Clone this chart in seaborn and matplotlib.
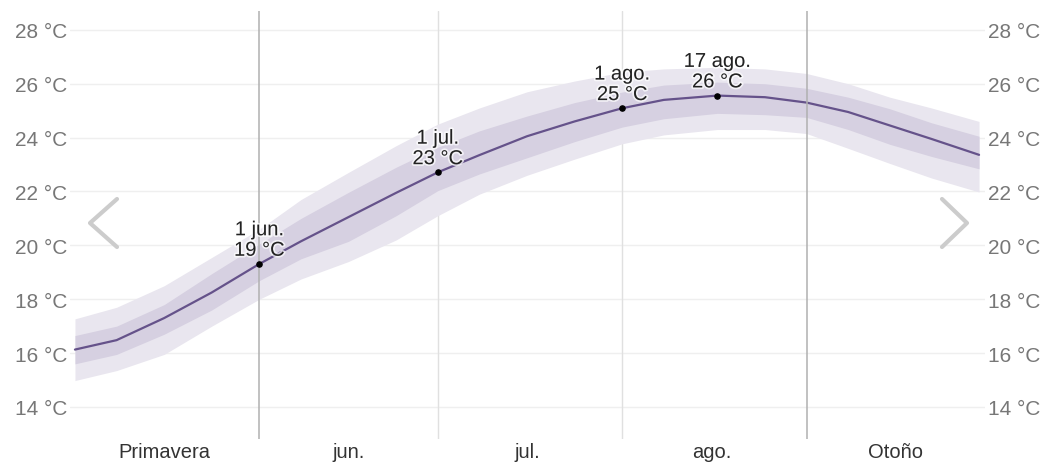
import pandas as pd
import numpy as np
import matplotlib
matplotlib.use('Agg')
import matplotlib.pyplot as plt
import matplotlib.patheffects as pe
from matplotlib.lines import Line2D
import seaborn as sns

# Datos (temperatura media diaria, °C)
fechas = ['2023-05-01', '2023-05-08', '2023-05-16', '2023-05-24', '2023-06-01',
          '2023-06-08', '2023-06-16', '2023-06-24', '2023-07-01', '2023-07-08',
          '2023-07-16', '2023-07-24', '2023-08-01', '2023-08-08', '2023-08-17',
          '2023-08-25', '2023-09-01', '2023-09-08', '2023-09-15', '2023-09-22',
          '2023-09-30']
media = [16.13, 16.48, 17.30, 18.25, 19.31, 20.15, 21.05, 21.95, 22.71, 23.35,
         24.05, 24.60, 25.09, 25.40, 25.56, 25.50, 25.30, 24.95, 24.45, 23.95,
         23.36]
p75 = [16.65, 17.00, 17.80, 18.95, 20.05, 21.00, 21.97, 22.90, 23.64, 24.25,
       24.80, 25.30, 25.69, 25.95, 26.06, 26.00, 25.83, 25.50, 25.07, 24.55,
       24.05]
p25 = [15.60, 15.95, 16.70, 17.60, 18.69, 19.50, 20.15, 21.10, 22.03, 22.65,
       23.25, 23.85, 24.39, 24.70, 24.90, 24.85, 24.75, 24.30, 23.75, 23.30,
       22.84]
p90 = [17.27, 17.70, 18.50, 19.55, 20.60, 21.70, 22.71, 23.70, 24.50, 25.10,
       25.70, 26.10, 26.43, 26.55, 26.61, 26.55, 26.38, 26.00, 25.50, 25.10,
       24.60]
p10 = [14.98, 15.35, 15.95, 17.00, 18.00, 18.75, 19.40, 20.20, 21.10, 21.90,
       22.60, 23.20, 23.77, 24.10, 24.30, 24.30, 24.15, 23.60, 23.04, 22.50,
       21.98]

# Puntos destacados
puntos_fecha = ['2023-06-01', '2023-07-01', '2023-08-01', '2023-08-17']
puntos_valor = [19.31, 22.71, 25.09, 25.56]
puntos_texto = ['1 jun.\n19 °C', '1 jul.\n23 °C', '1 ago.\n25 °C', '17 ago.\n26 °C']

# Separadores y etiquetas del eje x
lineas_estacion = ['2023-06-01', '2023-09-01']
lineas_mes = ['2023-07-01', '2023-08-01']
etiquetas_x = ['Primavera', 'jun.', 'jul.', 'ago.', 'Otoño']
etiquetas_x_pos = ['2023-05-16', '2023-06-16', '2023-07-16', '2023-08-16', '2023-09-16']
yticks = [14, 16, 18, 20, 22, 24, 26, 28]

df = pd.DataFrame({'fecha': pd.to_datetime(fechas), 'media': media,
                   'p25': p25, 'p75': p75, 'p10': p10, 'p90': p90})

sns.set_theme(style='white')
plt.rcParams['font.family'] = ['Liberation Sans', 'DejaVu Sans']

fig = plt.figure(figsize=(10.51, 4.64), dpi=100)
ax = fig.add_axes([70 / 1051, 24 / 464, 915 / 1051, 428 / 464])

# Bandas de percentiles
ax.fill_between(df['fecha'], df['p10'], df['p90'], color='#e9e6ef', lw=0, zorder=2)
ax.fill_between(df['fecha'], df['p25'], df['p75'], color='#d6d0e1', lw=0, zorder=3)
sns.lineplot(data=df, x='fecha', y='media', color='#65528a', lw=1.6, ax=ax, zorder=4)

# Rejilla horizontal
for t in yticks:
    ax.axhline(t, color='#efefef', lw=1, zorder=1)

for f in lineas_estacion:
    ax.axvline(pd.Timestamp(f), color='#b0b0b0', lw=1.1, zorder=5)
for f in lineas_mes:
    ax.axvline(pd.Timestamp(f), color='#e0e0e0', lw=1, zorder=1)

# Puntos y anotaciones
pf = pd.to_datetime(puntos_fecha)
ax.scatter(pf, puntos_valor, color='black', s=14, zorder=6)
for f, v, txt in zip(pf, puntos_valor, puntos_texto):
    ax.annotate(txt, (f, v), xytext=(0, 3), textcoords='offset points',
                ha='center', va='bottom', fontsize=14.5, color='#222222',
                linespacing=1.1, zorder=7,
                path_effects=[pe.withStroke(linewidth=2.5, foreground='white', alpha=0.7)])

ax.set_xlim(pd.Timestamp('2023-05-01') - pd.Timedelta(hours=20),
            pd.Timestamp('2023-09-30') + pd.Timedelta(hours=24))
ax.set_ylim(12.81, 28.7)

ax.set_yticks(yticks)
ax.set_yticklabels([f'{t} °C' for t in yticks])
ax.set_xticks(pd.to_datetime(etiquetas_x_pos))
ax.set_xticklabels(etiquetas_x)
ax.tick_params(axis='y', length=0, pad=2, labelsize=15, labelcolor='#777777',
               labelleft=True, labelright=True)
ax.tick_params(axis='x', length=0, pad=2, labelsize=14.5, labelcolor='#333333')
ax.set_xlabel('')
ax.set_ylabel('')
for s in ax.spines.values():
    s.set_visible(False)
ax.grid(False)

# Flechas de navegación
def px(x, y):
    return x / 1051, 1 - y / 464

for pts in ([(117, 200), (90, 224), (117, 248)], [(942, 200), (967, 224), (942, 248)]):
    xs, ys = zip(*[px(x, y) for x, y in pts])
    fig.add_artist(Line2D(xs, ys, transform=fig.transFigure, color='#cccccc',
                          lw=3, solid_capstyle='round', solid_joinstyle='round'))

plt.savefig('out.png', dpi=100)
plt.close()
